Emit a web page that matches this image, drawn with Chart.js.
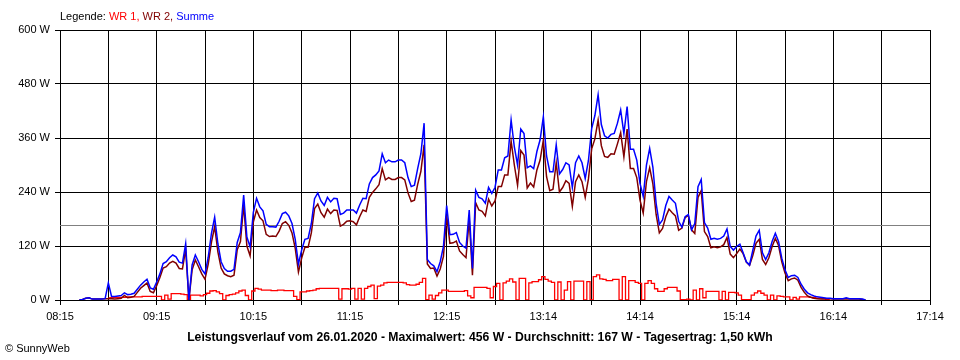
<!DOCTYPE html>
<html><head><meta charset="utf-8">
<script src="https://cdn.jsdelivr.net/npm/chart.js@4.4.1/dist/chart.umd.min.js"></script>
<style>
html,body{margin:0;padding:0;background:#fff;}
#wrap{position:relative;width:960px;height:360px;overflow:hidden;font-family:"Liberation Sans",Arial,sans-serif;color:#000;}
#c{position:absolute;left:0;top:0;}
#legend{position:absolute;left:60px;top:10px;font-size:11px;white-space:nowrap;line-height:13px;}
#title{position:absolute;left:0;width:960px;top:330px;text-align:center;font-size:12.2px;font-weight:bold;white-space:nowrap;line-height:14px;}
#copy{position:absolute;left:5px;top:342px;font-size:11px;line-height:13px;}
</style></head><body>
<div id="wrap">
<canvas id="c" width="960" height="360"></canvas>
<div id="legend">Legende: <span style="color:#ff0000">WR 1,</span> <span style="color:#800000">WR 2,</span> <span style="color:#0000ff">Summe</span></div>
<div id="title">Leistungsverlauf vom 26.01.2020 - Maximalwert: 456 W - Durchschnitt: 167 W - Tagesertrag: 1,50 kWh</div>
<div id="copy">© SunnyWeb</div>
</div>
<script>
// Readings every 2 minutes, starting 12 minutes after 08:15
const startMinute = 12;
const stepMinutes = 2;
const xTickLabels = ['08:15','09:15','10:15','11:15','12:15','13:14','14:14','15:14','16:14','17:14'];
const yMax = 600, yStep = 120;
const averageW = 167;

const summe = [
 0,1,4,5,2,2,2,2,3,38,
 8,8,9,10,16,12,13,15,24,33,
 40,46,27,24,40,58,81,85,94,100,
 96,84,82,125,0,78,100,85,68,58,
 95,148,184,125,85,70,64,64,68,128,
 150,233,140,118,195,226,207,198,168,163,
 163,162,175,192,195,187,170,135,80,111,
 135,137,170,225,238,220,210,228,218,226,
 225,190,193,200,200,200,193,211,226,225,
 258,272,278,287,325,305,311,307,307,311,
 311,305,272,252,255,292,325,393,90,81,
 76,63,85,119,210,145,146,150,128,120,
 115,200,70,244,228,225,215,250,237,250,
 289,289,316,320,400,340,300,380,370,294,
 298,292,330,356,407,320,285,285,345,280,
 290,305,300,250,305,320,305,270,310,381,
 410,456,390,365,360,368,370,393,422,370,
 430,335,335,311,259,230,300,337,295,215,
 168,178,210,230,222,215,175,162,185,190,
 156,170,252,268,172,160,135,137,135,137,
 142,158,119,111,119,124,105,85,78,110,
 142,155,105,90,105,130,148,130,93,67,
 50,54,55,50,35,24,16,12,9,7,
 6,5,4,4,3,3,3,3,5,3,
 3,3,3,2,0
];

const wr2 = [
 0,1,4,5,2,2,2,2,3,3,
 3,2,3,4,10,5,6,8,17,26,
 32,38,19,16,32,50,71,74,82,86,
 82,70,69,113,0,67,89,74,58,46,
 80,128,163,107,71,58,54,52,55,112,
 130,211,120,98,173,200,183,176,146,141,
 142,141,153,170,174,166,149,115,62,93,
 117,117,149,203,213,194,184,202,192,200,
 199,164,168,175,176,174,167,185,200,197,
 228,239,247,256,292,267,272,268,268,272,
 272,267,238,219,222,257,286,345,80,70,
 71,53,69,97,188,126,127,131,109,101,
 94,180,55,216,200,197,187,224,209,220,
 252,252,278,278,353,300,255,332,322,249,
 260,251,289,311,355,274,243,246,305,240,
 250,265,259,208,263,278,263,228,269,336,
 358,400,343,319,317,325,324,347,372,318,
 380,292,292,272,222,193,263,294,258,190,
 149,159,185,202,194,187,155,160,183,188,
 156,148,228,243,152,141,116,118,116,118,
 123,139,102,94,103,113,103,84,77,99,
 126,135,90,79,94,119,137,121,85,60,
 43,47,49,44,28,17,9,6,4,3,
 2,2,3,3,2,2,2,2,3,2,
 2,2,2,1,0
];

const wr1 = [
 null,null,null,null,null,null,null,null,null,4,
 5,6,6,6,6,7,7,7,7,7,
 8,8,8,8,8,8,0,11,2,14,
 14,14,13,12,0,11,11,11,9,12,
 15,20,21,18,14,0,10,12,13,16,
 20,22,10,0,20,26,24,22,22,22,
 21,21,22,22,21,21,21,8,1,18,
 18,20,21,22,25,26,26,26,26,26,
 26,2,25,25,24,26,2,26,2,26,
 30,33,3,31,33,38,39,39,39,39,
 39,38,34,33,33,35,39,48,1,11,
 2,10,16,22,22,19,19,19,19,19,
 21,9,5,28,28,28,28,26,5,30,
 37,0,38,42,47,40,0,48,48,0,
 38,41,41,45,52,46,42,39,0,40,
 0,22,41,0,42,42,42,0,41,0,
 52,56,47,46,43,43,46,46,0,52,
 0,43,43,39,37,0,37,43,37,25,
 19,19,25,28,28,28,20,1,1,2,
 0,22,0,25,5,19,19,19,19,0,
 19,0,17,17,16,11,1,1,1,11,
 16,20,15,11,0,11,0,9,8,7,
 7,0,6,2,7,7,7,6,5,4,
 4,3,1,0,null,null,null,null,null,null,
 null,null,null,null,null
];

const toPoints = arr => arr.map((v, i) => ({x: startMinute + i * stepMinutes, y: v}));

const averageLine = {
  id: 'averageLine',
  beforeDatasetsDraw(chart) {
    const {ctx, chartArea, scales} = chart;
    const py = Math.round(scales.y.getPixelForValue(averageW)) + 0.5;
    ctx.save();
    ctx.strokeStyle = '#808080';
    ctx.lineWidth = 1;
    ctx.beginPath();
    ctx.moveTo(chartArea.left, py);
    ctx.lineTo(chartArea.right, py);
    ctx.stroke();
    ctx.restore();
  }
};

Chart.defaults.font.family = '"Liberation Sans", Arial, sans-serif';
Chart.defaults.font.size = 11;
Chart.defaults.color = '#000';

const lineDs = (label, arr, color, w, stepped) => ({
  label, data: toPoints(arr), borderColor: color, backgroundColor: color,
  borderWidth: w, pointRadius: 0, pointHoverRadius: 0, tension: 0, fill: false,
  spanGaps: false, stepped
});

new Chart(document.getElementById('c'), {
  type: 'line',
  data: {
    datasets: [
      lineDs('Summe', summe, '#0000ff', 1.5, false),
      lineDs('WR 2', wr2, '#800000', 1.5, false),
      lineDs('WR 1', wr1, '#ff0000', 1.3, 'middle')
    ]
  },
  options: {
    responsive: false,
    animation: false,
    devicePixelRatio: 1,
    layout: {padding: {left: 0, right: 30, top: 30, bottom: 0}},
    plugins: {legend: {display: false}, tooltip: {enabled: false}},
    scales: {
      x: {
        type: 'linear', min: 0, max: 540,
        afterFit(s) { s.height = 60; },
        grid: {color: '#000', lineWidth: 1, drawTicks: true, tickLength: 5, tickColor: '#000'},
        border: {display: true, color: '#000', width: 1},
        ticks: {
          stepSize: 30, autoSkip: false, maxRotation: 0, minRotation: 0, padding: 5,
          callback: v => (v % 60 === 0 ? xTickLabels[v / 60] : '')
        }
      },
      y: {
        min: 0, max: yMax,
        afterFit(s) { s.width = 60; },
        grid: {color: '#000', lineWidth: 1, drawTicks: true, tickLength: 5, tickColor: '#000'},
        border: {display: true, color: '#000', width: 1},
        ticks: {stepSize: yStep, padding: 5, callback: v => v + ' W'}
      }
    }
  },
  plugins: [averageLine]
});
</script>
</body></html>
